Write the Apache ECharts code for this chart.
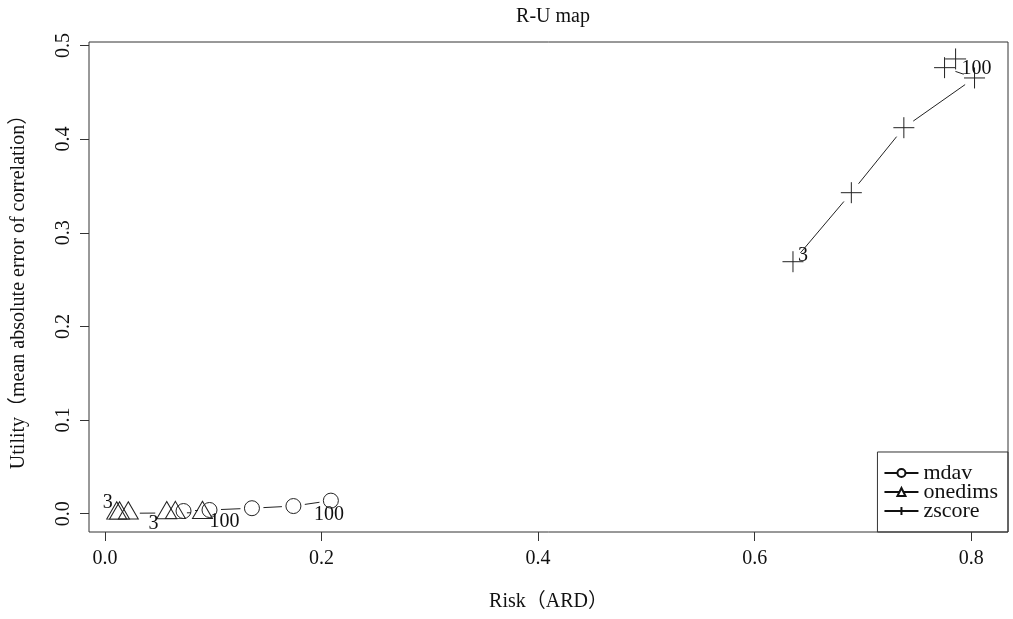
<!DOCTYPE html>
<html>
<head>
<meta charset="utf-8">
<script src="https://cdn.jsdelivr.net/npm/echarts@6/dist/echarts.min.js"></script>
<style>
  html, body { margin: 0; padding: 0; background: #fff; }
  #chart { width: 1013px; height: 619px; }
</style>
</head>
<body>
<div id="chart"></div>
<script>
// values
const mdavRisk = [0.0725, 0.0965, 0.1357, 0.174, 0.2086]
const mdavUtil = [0.0029, 0.004, 0.0059, 0.0082, 0.014]
const onedimsRisk = [0.0108, 0.0134, 0.0215, 0.057, 0.065, 0.09]
const onedimsUtil = [0.0004, 0.0004, 0.0005, 0.0008, 0.0009, 0.0011]
const zscoreRisk = [0.6354, 0.6893, 0.7378, 0.8031, 0.7754, 0.7856]
const zscoreUtil = [0.2691, 0.3428, 0.4122, 0.4653, 0.4763, 0.4856]
const xTicks = [0, 0.2, 0.4, 0.6, 0.8]
const yTicks = [0, 0.1, 0.2, 0.3, 0.4, 0.5]

const FONT = "'Liberation Serif', 'Noto Sans CJK JP', serif"
const INK = '#111'
const GAP = 11.5

const chart = echarts.init(document.getElementById('chart'))

// points with the k labels ("3" first, "100" last)
function points(xs, ys, labels) {
  return xs.map((x, i) => {
    const item = { value: [x, ys[i]] }
    if (labels[i]) {
      item.label = {
        show: true,
        position: 'inside',
        formatter: labels[i].text,
        offset: labels[i].offset,
      }
    }
    return item
  })
}

function segments(xs, ys) {
  const segs = []
  for (let i = 0; i < xs.length - 1; i++) {
    segs.push([xs[i], ys[i], xs[i + 1], ys[i + 1]])
  }
  return segs
}

// R type="b": lines stop short of the points
function gapLine(params, api) {
  const a = api.coord([api.value(0), api.value(1)])
  const b = api.coord([api.value(2), api.value(3)])
  const dx = b[0] - a[0]
  const dy = b[1] - a[1]
  const d = Math.sqrt(dx * dx + dy * dy)
  if (d <= 2 * GAP) return { type: 'group', children: [] }
  const f = GAP / d
  return {
    type: 'line',
    shape: { x1: a[0] + dx * f, y1: a[1] + dy * f, x2: b[0] - dx * f, y2: b[1] - dy * f },
    style: { stroke: '#222', lineWidth: 1 },
  }
}

const labelStyle = { fontFamily: FONT, fontSize: 20, color: INK }
const markStyle = { color: 'transparent', borderColor: '#222', borderWidth: 1 }

function pointSeries(name, symbol, size, data, extra) {
  return Object.assign({
    name,
    type: 'line',
    symbol,
    symbolSize: size,
    showAllSymbol: true,
    data,
    lineStyle: { opacity: 0, width: 0 },
    itemStyle: markStyle,
    label: Object.assign({ show: false }, labelStyle),
    silent: true,
    z: 3,
  }, extra || {})
}

function lineSeries(xs, ys) {
  return {
    type: 'custom',
    renderItem: gapLine,
    data: segments(xs, ys),
    encode: { x: [0, 2], y: [1, 3] },
    silent: true,
    z: 2,
  }
}

const mdavLabels = []
mdavLabels[0] = { text: '3', offset: [-30, 13] }
mdavLabels[4] = { text: '100', offset: [-2, 14] }
const onedimsLabels = []
onedimsLabels[0] = { text: '3', offset: [-9, -8] }
onedimsLabels[5] = { text: '100', offset: [22, 12] }
const zscoreLabels = []
zscoreLabels[0] = { text: '3', offset: [10, -6] }
zscoreLabels[5] = { text: '100', offset: [21, 10] }

const option = {
  backgroundColor: '#fff',
  animation: false,
  title: {
    text: 'R-U map',
    left: 548,
    top: 2,
    textAlign: 'center',
    textStyle: { fontFamily: FONT, fontSize: 20, fontWeight: 'normal', color: INK },
  },
  grid: {
    left: 89,
    right: 5,
    top: 42,
    bottom: 87,
    show: true,
    borderColor: '#333',
    borderWidth: 1,
  },
  legend: {
    data: ['mdav', 'onedims', 'zscore'],
    orient: 'vertical',
    right: 5,
    bottom: 87,
    padding: [10, 10, 10, 6],
    borderColor: '#333',
    borderWidth: 1,
    itemWidth: 34,
    itemHeight: 10,
    itemGap: -3,
    selectedMode: false,
    textStyle: { fontFamily: FONT, fontSize: 22, color: INK },
    lineStyle: { color: '#111', width: 2, opacity: 1, type: 'solid' },
    itemStyle: { color: '#fff', borderColor: '#111', borderWidth: 2 },
  },
  xAxis: {
    type: 'value',
    min: -0.0148,
    max: 0.834,
    name: 'Risk（ARD）',
    nameLocation: 'middle',
    nameGap: 60,
    nameTextStyle: { fontFamily: FONT, fontSize: 20, color: INK },
    axisLine: { show: false, onZero: false },
    splitLine: { show: false },
    axisTick: {
      show: true,
      inside: false,
      length: 9,
      customValues: xTicks,
      lineStyle: { color: '#333', width: 1 },
    },
    axisLabel: {
      customValues: xTicks,
      formatter: (v) => v.toFixed(1),
      margin: 17,
      fontFamily: FONT,
      fontSize: 20,
      color: INK,
    },
  },
  yAxis: {
    type: 'value',
    min: -0.0195,
    max: 0.5037,
    name: 'Utility（mean absolute error of correlation）',
    nameLocation: 'middle',
    nameGap: 60,
    nameTextStyle: { fontFamily: FONT, fontSize: 20, color: INK },
    axisLine: { show: false, onZero: false },
    splitLine: { show: false },
    axisTick: {
      show: true,
      inside: false,
      length: 9,
      customValues: yTicks,
      lineStyle: { color: '#333', width: 1 },
    },
    axisLabel: {
      customValues: yTicks,
      formatter: (v) => v.toFixed(1),
      rotate: 90,
      margin: 15,
      fontFamily: FONT,
      fontSize: 20,
      color: INK,
    },
  },
  series: [
    lineSeries(mdavRisk, mdavUtil),
    lineSeries(onedimsRisk, onedimsUtil),
    lineSeries(zscoreRisk, zscoreUtil),
    pointSeries('mdav', 'circle', 15, points(mdavRisk, mdavUtil, mdavLabels)),
    pointSeries('onedims', 'triangle', [20, 17.3], points(onedimsRisk, onedimsUtil, onedimsLabels), {
      symbolOffset: [0, '-16.7%'],
    }),
    pointSeries('zscore', 'path://M10 0V20M0 10H20', 21, points(zscoreRisk, zscoreUtil, zscoreLabels)),
  ],
}

chart.setOption(option)

window.addEventListener('resize', () => chart.resize())
</script>
</body>
</html>
